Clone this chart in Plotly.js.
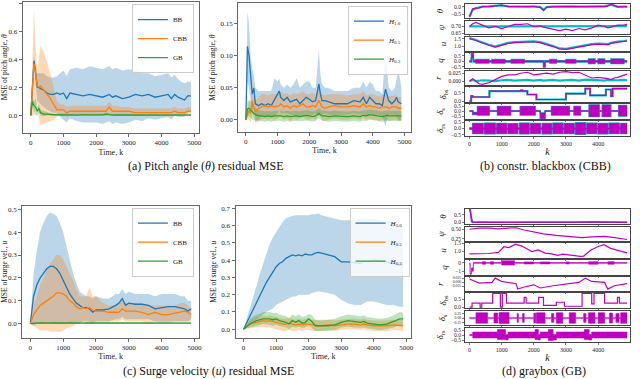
<!DOCTYPE html>
<html>
<head>
<meta charset="utf-8">
<script src="https://cdn.plot.ly/plotly-3.0.1.min.js"></script>
<style>
  html, body { margin: 0; padding: 0; background: #fff; }
  #plot { width: 640px; height: 379px; }
</style>
</head>
<body>
<div id="plot"></div>
<script>
// ---- (a) pitch angle residual MSE, models ----
var KA = [0,50,100,150,200,250,300, 400,500,600,700,800,900,1000, 1100,1200,1400,1600,1800,2000,
  2200,2300,2400,2500,2600,2800, 3000,3200,3400,3600,3800,4000, 4200,4300,4400,4500,4600,4700,4800,4900];
var bbA = [0,0.2,0.39,0.3,0.2,0.2,0.19, 0.18,0.16,0.15,0.15,0.16,0.15,0.16, 0.12,0.16,0.15,0.14,0.15,0.14,
  0.13,0.14,0.15,0.13,0.14,0.12, 0.13,0.15,0.14,0.15,0.13,0.14, 0.15,0.12,0.15,0.13,0.12,0.11,0.14,0.14];
var bbAhi = [0,0.3,0.42,0.36,0.3,0.3,0.3, 0.3,0.28,0.27,0.27,0.28,0.3,0.32, 0.28,0.33,0.34,0.33,0.35,0.34,
  0.33,0.34,0.35,0.33,0.34,0.32, 0.33,0.32,0.3,0.3,0.28,0.29, 0.3,0.27,0.29,0.26,0.24,0.23,0.24,0.24];
var bbAlo = [0,0.1,0.36,0.24,0.1,0.1,0.08, 0.06,0.04,0.03,0.02,0.02,-0.01,-0.03, -0.05,-0.02,-0.04,-0.05,-0.05,-0.05,
  -0.06,-0.05,-0.04,-0.06,-0.05,-0.06, -0.05,-0.03,-0.04,-0.02,-0.03,-0.02, -0.01,-0.03,0.0,-0.01,-0.01,-0.01,0.02,0.03];
var cbbA = [0,0.2,0.37,0.3,0.21,0.2,0.21, 0.18,0.15,0.12,0.08,0.04,0.04,0.04, 0.02,0.03,0.03,0.03,0.03,0.03,
  0.03,0.03,0.06,0.03,0.03,0.03, 0.03,0.02,0.02,0.02,0.02,0.02, 0.02,0.02,0.03,0.02,0.02,0.02,0.03,0.03];
var cbbAhi = [0,0.4,0.76,0.5,0.3,0.42,0.5, 0.45,0.38,0.3,0.2,0.1,0.08,0.08, 0.06,0.07,0.07,0.07,0.07,0.07,
  0.07,0.07,0.1,0.07,0.07,0.06, 0.06,0.05,0.05,0.05,0.05,0.05, 0.05,0.05,0.06,0.05,0.05,0.05,0.06,0.06];
var cbbAlo = [0,0,0,0.05,0.1,-0.02,-0.07, -0.06,-0.05,-0.04,-0.03,-0.01,0,0, -0.01,0,0,0,0,0,
  0,0,0.01,0,0,0, 0,0,0,0,0,0, 0,0,0,0,0,0,0,0];
var gbA = [0,0.1,0.07,0.06,0.03,0.05,0.02, 0.01,0.01,0.005,0.005,0.005,0.004,0.004, 0.004,0.004,0.003,0.004,0.003,0.004,
  0.004,0.01,0.004,0.003,0.004,0.003, 0.004,0.003,0.003,0.004,0.003,0.003, 0.004,0.003,0.003,0.004,0.003,0.003,0.003,0.003];
var gbAhi = [0,0.13,0.1,0.12,0.06,0.08,0.04, 0.03,0.02,0.015,0.012,0.012,0.01,0.01, 0.01,0.01,0.01,0.01,0.01,0.01,
  0.01,0.02,0.01,0.01,0.01,0.01, 0.01,0.01,0.01,0.01,0.01,0.01, 0.01,0.01,0.01,0.01,0.01,0.01,0.01,0.01];
var gbAlo = [0,0.07,0.03,0,0,0.02,0, -0.005,0,0,0,0,0,0, 0,0,0,0,0,0,
  0,0,0,0,0,0, 0,0,0,0,0,0, 0,0,0,0,0,0,0,0];

// ---- (a) pitch angle residual MSE, horizons ----
var KB = [0,50,100,150,200,250,300,400,500,600, 700,800,900,1000,1050,1100,1200,1300,1400,1500,
  1600,1700,1800,1900,2000,2100,2200,2300,2350,2400, 2500,2600,2800,3000,3200,3400,3600,3700,3800,3900,
  4000,4100,4200,4300,4400,4450,4500,4600,4700,4750, 4800,4900];
var h10B = [0,0.115,0.1,0.07,0.04,0.05,0.025,0.022,0.025,0.022, 0.025,0.022,0.03,0.04,0.045,0.035,0.03,0.035,0.028,0.03,
  0.032,0.025,0.03,0.035,0.032,0.028,0.03,0.056,0.04,0.03, 0.03,0.028,0.025,0.025,0.025,0.03,0.028,0.035,0.025,0.035,
  0.03,0.025,0.025,0.022,0.048,0.04,0.03,0.025,0.03,0.035, 0.028,0.025];
var h10Bhi = [0,0.17,0.15,0.1,0.08,0.07,0.05,0.045,0.045,0.045, 0.045,0.045,0.065,0.06,0.065,0.055,0.05,0.055,0.05,0.055,
  0.065,0.05,0.055,0.06,0.06,0.05,0.05,0.11,0.07,0.055, 0.05,0.05,0.045,0.045,0.045,0.05,0.05,0.06,0.05,0.06,
  0.055,0.045,0.045,0.04,0.105,0.08,0.05,0.045,0.05,0.065, 0.08,0.05];
var h10Blo = [0,0.06,0.05,0.03,0.01,0.02,0,0,0.005,0.005, 0.005,0.005,0.005,0.01,0.015,0.01,0.01,0.01,0.008,0.008,
  0.005,0.005,0.008,0.01,0.008,0.008,0.01,0.005,0.01,0.008, 0.01,0.008,0.008,0.008,0.008,0.01,0.008,0.01,0.005,0.01,
  0.008,0.008,0.008,0.005,-0.01,0.0,0.008,0.008,0.008,0.005, 0.0,0.0];
var h05B = [0,0.008,0.015,0.01,0.03,0.02,0.012,0.018,0.02,0.022, 0.02,0.022,0.02,0.022,0.022,0.025,0.02,0.022,0.018,0.022,
  0.02,0.022,0.025,0.02,0.02,0.022,0.02,0.03,0.025,0.02, 0.018,0.02,0.022,0.02,0.02,0.022,0.02,0.025,0.02,0.022,
  0.02,0.02,0.018,0.02,0.02,0.02,0.018,0.02,0.02,0.02, 0.018,0.018];
var h05Bhi = [0,0.015,0.03,0.03,0.045,0.035,0.03,0.035,0.04,0.04, 0.038,0.04,0.04,0.042,0.04,0.045,0.04,0.042,0.038,0.042,
  0.04,0.042,0.045,0.04,0.04,0.042,0.04,0.05,0.045,0.04, 0.038,0.04,0.04,0.04,0.038,0.04,0.04,0.045,0.038,0.04,
  0.04,0.038,0.036,0.038,0.04,0.038,0.036,0.038,0.038,0.038, 0.035,0.035];
var h05Blo = [0,0.0,0.0,-0.005,0.01,0.005,-0.005,0.0,0.0,0.002, 0.0,0.002,0.0,0.002,0.003,0.005,0.0,0.002,-0.002,0.002,
  0.0,0.002,0.004,0.0,0.0,0.002,0.0,0.008,0.005,0.0, -0.002,0.0,0.002,0.0,0.0,0.002,0.0,0.004,0.0,0.002,
  0.0,0.0,-0.002,0.0,0.0,0.0,-0.002,0.0,0.0,0.0, -0.002,-0.002];
var h03B = [0,0.017,0.018,0.015,0.012,0.01,0.008,0.006,0.006,0.005, 0.006,0.005,0.006,0.006,0.007,0.006,0.005,0.006,0.005,0.006,
  0.006,0.005,0.006,0.007,0.006,0.005,0.006,0.01,0.008,0.006, 0.006,0.005,0.006,0.005,0.005,0.006,0.005,0.007,0.006,0.008,
  0.007,0.006,0.006,0.005,0.006,0.007,0.006,0.006,0.007,0.007, 0.006,0.006];
var h03Bhi = [0,0.03,0.03,0.028,0.025,0.02,0.018,0.015,0.014,0.013, 0.014,0.013,0.014,0.014,0.015,0.014,0.013,0.014,0.013,0.014,
  0.014,0.013,0.014,0.015,0.014,0.013,0.014,0.018,0.016,0.014, 0.014,0.013,0.014,0.013,0.013,0.014,0.013,0.015,0.014,0.016,
  0.015,0.014,0.014,0.013,0.014,0.015,0.014,0.014,0.015,0.015, 0.014,0.014];
var h03Blo = [0,0.005,0.006,0.002,0.0,0.0,-0.002,-0.003,-0.002,-0.003, -0.002,-0.003,-0.002,-0.002,-0.001,-0.002,-0.003,-0.002,-0.003,-0.002,
  -0.002,-0.003,-0.002,-0.001,-0.002,-0.003,-0.002,0.002,0.0,-0.002, -0.002,-0.003,-0.002,-0.003,-0.003,-0.002,-0.003,-0.001,-0.002,0.0,
  -0.001,-0.002,-0.002,-0.003,-0.002,-0.001,-0.002,-0.002,-0.001,-0.001, -0.002,-0.002];

// ---- (c) surge velocity residual MSE, models ----
var KC = [0,100,200,300,400,500,600,700,800,900, 1000,1100,1200,1300,1400,1500,1600,1700,1800,1900,
  2000,2200,2400,2600,2700,2800,2900,3000,3200,3400, 3600,3800,4000,4200,4400,4600,4700,4800,4900];
var bbC = [0,0.12,0.17,0.2,0.22,0.24,0.25,0.25,0.24,0.22, 0.19,0.16,0.13,0.11,0.09,0.08,0.07,0.07,0.065,0.05,
  0.06,0.06,0.065,0.08,0.09,0.11,0.08,0.09,0.085,0.085, 0.08,0.065,0.07,0.075,0.075,0.07,0.065,0.055,0.065];
var bbChi = [0,0.22,0.32,0.4,0.44,0.47,0.485,0.48,0.47,0.44, 0.4,0.34,0.28,0.22,0.18,0.14,0.13,0.12,0.12,0.11,
  0.12,0.11,0.11,0.13,0.13,0.15,0.13,0.14,0.13,0.13, 0.13,0.12,0.13,0.13,0.13,0.12,0.12,0.1,0.1];
var bbClo = [0,-0.01,0,0,0,0,0,0,0,0, 0,0,0,0,0,0,0.01,0.01,0.01,0.0,
  0.01,0.01,0.01,0.02,0.02,0.03,0.02,0.02,0.02,0.02, 0.02,0.01,0.01,0.01,0.01,0.01,0.01,0.01,0.02];
var cbbC = [0,0.04,0.06,0.08,0.09,0.1,0.11,0.12,0.135,0.135, 0.13,0.12,0.1,0.09,0.075,0.065,0.07,0.065,0.07,0.06,
  0.055,0.055,0.05,0.05,0.05,0.065,0.055,0.055,0.055,0.05, 0.04,0.05,0.04,0.04,0.045,0.05,0.055,0.05,0.04];
var cbbChi = [0,0.08,0.12,0.17,0.2,0.23,0.26,0.28,0.3,0.3, 0.28,0.25,0.22,0.19,0.15,0.12,0.12,0.12,0.16,0.12,
  0.12,0.09,0.08,0.08,0.09,0.1,0.09,0.09,0.09,0.09, 0.08,0.08,0.08,0.08,0.08,0.09,0.09,0.08,0.06];
var cbbClo = [0,-0.01,-0.02,-0.03,-0.03,-0.03,-0.035,-0.035,-0.035,-0.035, -0.03,-0.02,-0.015,-0.01,0,0,0.01,0.01,0,0,
  0.01,0.01,0.01,0.01,0.01,0.02,0.01,0.01,0.01,0.01, 0.0,0.01,0.0,0.0,0.01,0.01,0.01,0.01,0.01];
var gbC = [0,0.003,0.003,0.004,0.003,0.003,0.003,0.004,0.003,0.003, 0.003,0.003,0.004,0.003,0.003,0.003,0.003,0.004,0.004,0.004,
  0.005,0.004,0.004,0.003,0.003,0.002,0.002,0.003,0.003,0.003, 0.003,0.003,0.003,0.004,0.003,0.003,0.003,0.003,0.003];
var gbChi = [0,0.006,0.007,0.007,0.006,0.006,0.006,0.007,0.006,0.006, 0.006,0.006,0.007,0.006,0.006,0.006,0.006,0.007,0.007,0.007,
  0.008,0.007,0.007,0.006,0.006,0.005,0.005,0.006,0.006,0.006, 0.006,0.006,0.006,0.007,0.006,0.006,0.006,0.006,0.006];
var gbClo = [0,0,0,0.001,0,0,0,0.001,0,0, 0,0,0.001,0,0,0,0,0.001,0.001,0.001,
  0.002,0.001,0.001,0,0,-0.001,-0.001,0,0,0, 0,0,0,0.001,0,0,0,0,0];

// ---- (c) surge velocity residual MSE, horizons ----
var KD = [0,200,400,500,600,700,800,900,1000,1100, 1200,1300,1400,1500,1600,1700,1800,1900,2000,2100,
  2200,2300,2400,2600,2800,3000,3200,3400,3600,3700, 3800,4000,4200,4400,4600,4800,4900];
var h10D = [0,0.08,0.16,0.2,0.24,0.27,0.3,0.33,0.36,0.38, 0.39,0.41,0.42,0.43,0.425,0.43,0.425,0.435,0.43,0.43,
  0.44,0.445,0.44,0.43,0.42,0.39,0.39,0.385,0.38,0.395, 0.39,0.4,0.395,0.39,0.38,0.37,0.372];
var h10Dhi = [0,0.12,0.25,0.32,0.38,0.44,0.49,0.53,0.56,0.59, 0.62,0.64,0.65,0.655,0.66,0.66,0.66,0.66,0.66,0.665,
  0.665,0.67,0.66,0.65,0.64,0.63,0.63,0.63,0.64,0.64, 0.64,0.64,0.63,0.63,0.62,0.6,0.58];
var h10Dlo = [0,0.03,0.06,0.07,0.09,0.1,0.11,0.12,0.14,0.15, 0.16,0.17,0.18,0.19,0.19,0.2,0.2,0.2,0.2,0.21,
  0.215,0.22,0.215,0.21,0.2,0.17,0.15,0.14,0.14,0.15, 0.16,0.16,0.15,0.14,0.14,0.13,0.13];
var h05D = [0,0.03,0.04,0.045,0.05,0.045,0.05,0.045,0.04,0.035, 0.03,0.03,0.035,0.03,0.025,0.03,0.025,0.03,0.03,0.025,
  0.025,0.02,0.02,0.025,0.02,0.025,0.03,0.03,0.025,0.03, 0.025,0.02,0.02,0.02,0.025,0.02,0.02];
var h05Dhi = [0,0.05,0.07,0.075,0.08,0.075,0.08,0.075,0.07,0.065, 0.06,0.06,0.065,0.06,0.055,0.06,0.055,0.06,0.06,0.055,
  0.055,0.05,0.05,0.055,0.05,0.055,0.06,0.06,0.055,0.06, 0.055,0.05,0.05,0.05,0.055,0.05,0.05];
var h05Dlo = [0,0.005,0.01,0.01,0.015,0.01,0.01,0.005,0.0,-0.005, -0.01,-0.01,-0.005,-0.01,-0.01,-0.005,-0.01,-0.005,-0.005,-0.01,
  -0.01,-0.01,-0.01,-0.005,-0.01,-0.005,0.0,0.0,-0.005,0.0, -0.005,-0.01,-0.01,-0.01,-0.005,-0.01,-0.01];
var h03D = [0,0.03,0.05,0.055,0.06,0.06,0.06,0.055,0.06,0.05, 0.045,0.04,0.03,0.05,0.04,0.05,0.035,0.04,0.06,0.045,
  0.02,0.02,0.02,0.02,0.025,0.04,0.05,0.045,0.04,0.045, 0.035,0.03,0.025,0.03,0.045,0.06,0.06];
var h03Dhi = [0,0.06,0.085,0.09,0.1,0.1,0.1,0.095,0.095,0.085, 0.08,0.075,0.065,0.085,0.075,0.085,0.07,0.075,0.09,0.08,
  0.055,0.055,0.055,0.055,0.06,0.075,0.085,0.08,0.075,0.08, 0.07,0.065,0.06,0.065,0.08,0.1,0.095];
var h03Dlo = [0,0.01,0.02,0.025,0.03,0.03,0.025,0.02,0.025,0.02, 0.015,0.01,0.0,0.015,0.01,0.015,0.005,0.01,0.025,0.01,
  -0.01,-0.01,-0.01,-0.01,-0.005,0.01,0.015,0.01,0.01,0.01, 0.005,0.0,-0.005,0.0,0.01,0.025,0.025];

// ---- (b) constr. blackbox: states and inputs ----
var KS = [0,100,200,300,400,600,800,1000,1200,1400, 1600,1800,2000,2200,2300,2400,2600,2800,3000,3200,
  3400,3600,3800,4000,4200,4300,4400,4500,4600,4800, 4900];
var thB = [-0.7,-0.15,-0.1,-0.08,0.0,0.0,0.05,0.1,0.0,0.0, 0.0,0.0,0.0,-0.05,-0.25,-0.05,0.0,0.0,0.0,0.0,
  0.0,0.0,0.0,0.0,0.0,0.05,0.15,0.08,0.0,0.0, 0.0];
var thBref = [-0.65,-0.2,-0.12,-0.05,0.0,0.02,0.05,0.08,0.02,0.0, 0.02,0.0,0.02,-0.03,-0.22,-0.03,0.0,0.02,0.0,0.02,
  0.0,0.02,0.0,0.02,0.02,0.08,0.12,0.05,-0.02,0.0, 0.0];
var psB = [0.70,0.72,0.73,0.72,0.705,0.69,0.70,0.685,0.70,0.715, 0.715,0.72,0.70,0.705,0.695,0.69,0.68,0.67,0.68,0.67,
  0.685,0.675,0.69,0.71,0.70,0.69,0.695,0.70,0.71,0.71, 0.715];
var psBref = [0.70,0.70,0.70,0.698,0.698,0.697,0.697,0.697,0.698,0.698, 0.698,0.699,0.699,0.699,0.698,0.698,0.698,0.698,0.699,0.699,
  0.70,0.70,0.70,0.70,0.70,0.70,0.701,0.701,0.701,0.702, 0.702];
var uB = [1.5,1.45,1.38,1.3,1.22,1.08,0.97,1.1,1.2,1.25, 1.28,1.3,1.3,1.25,1.2,1.12,1.0,0.85,0.82,0.9,
  0.98,1.05,1.12,1.15,1.15,1.12,1.2,1.25,1.28,1.32, 1.35];
var uBref = [1.53,1.48,1.41,1.33,1.25,1.11,1.0,1.13,1.23,1.28, 1.31,1.33,1.33,1.28,1.23,1.15,1.03,0.88,0.85,0.93,
  1.01,1.08,1.15,1.18,1.18,1.15,1.23,1.28,1.31,1.35, 1.38];
var rB = [0.0,0.008,0.0,-0.008,-0.01,-0.005,0.005,0.015,0.02,0.02, 0.025,0.028,0.02,0.022,0.025,0.025,0.022,0.028,0.03,0.027,
  0.028,0.02,0.01,0.012,0.01,0.008,0.005,0.01,0.012,0.018, 0.022];
var rBref = [0.0,0.004,0.0,0.001,0.003,0.002,0.0,0.003,0.004,0.002, 0.003,0.004,0.002,0.004,0.002,0.003,0.004,0.002,0.003,0.004,
  0.002,0.005,0.004,0.003,0.002,0.004,0.003,0.004,0.003,0.004, 0.003];
var qBk = [0,60,120,200,600,700,1100,1300,1700,2250, 2300,2350,2500,2700,3000,3300,3700,3900,4000,4200, 4400,4800,4900];
var qBhi = [0.05,0.7,0.1,0.15,0.05,0.15,0.05,0.15,0.05,0.05, -0.1,0.05,0.15,0.05,0.15,0.05,0.2,0.05,0.2,0.05, 0.2,0.05,0.05];
var qBlo = [-0.05,0.3,-0.05,-0.15,-0.05,-0.15,-0.05,-0.15,-0.05,-0.05, -0.5,-0.05,-0.15,-0.05,-0.15,-0.05,-0.2,-0.05,-0.2,-0.05, -0.2,-0.05,-0.05];
var dbBk = [0,50,100,150,620,1600,1650,1800,2080,3000,3600,3750,4240,4400,4450,4900];
var dbB = [0.0,0.3,0.25,0.25,0.6,0.65,0.6,0.4,0.1,0.45,0.75,0.35,0.7,0.3,0.75,0.75];
var dsBk = [0,100,250,610,870,1280,1580,2040,2200,2350, 2550,3100,3250,3450,3720,4030,4130,4390,4640,4900];
var dsBhi = [0.02,-0.15,0.45,0.03,0.45,0.03,0.45,0.03,-0.2,0.03, 0.45,0.03,0.45,0.03,0.6,0.03,0.6,0.03,0.55,0.55];
var dsBlo = [-0.02,-0.35,-0.4,-0.03,-0.4,-0.03,-0.4,-0.03,-0.75,-0.03, -0.4,-0.03,-0.4,-0.03,-0.55,-0.03,-0.55,-0.03,-0.5,-0.5];
var drsBk = [0,100,420,470,800,850,1150,1200,1500,1560, 1850,1900,2200,2260,2550,2600,2900,2950,3250,3300,
  3600,3650,3950,4000,4300,4350,4650,4700,4900];
var drsBhi = [0.05,0.4,0.05,0.42,0.05,0.4,0.05,0.38,0.05,0.42, 0.05,0.4,0.05,0.4,0.05,0.42,0.05,0.4,0.05,0.45,
  0.05,0.42,0.05,0.4,0.05,0.42,0.05,0.4,0.4];
var drsBlo = [-0.05,-0.4,-0.05,-0.42,-0.05,-0.4,-0.05,-0.4,-0.05,-0.42, -0.05,-0.4,-0.05,-0.42,-0.05,-0.4,-0.05,-0.4,-0.05,-0.45,
  -0.05,-0.4,-0.05,-0.42,-0.05,-0.4,-0.05,-0.4,-0.4];

// ---- (d) graybox: states and inputs ----
var thDk = [0,30,60,100,300,600,1000,1400,1800,2200,2600,3000,3400,3800,4200,4600,4900];
var thD = [0.85,0.6,0.05,0.0,0.01,0.0,0.02,0.0,0.01,0.0,0.01,0.0,0.01,0.03,0.0,0.01,0.0];
var thDref = [0.85,0.82,0.3,0.02,0.0,0.0,0.01,0.0,0.0,0.0,0.0,0.0,0.0,0.01,0.0,0.0,0.0];
var psDk = [0,300,600,900,1200,1450,1700,2000,2300,2700,3000,3500,3800,4200,4400,4700,4900];
var psD = [0.5,0.53,0.53,0.51,0.53,0.54,0.48,0.42,0.38,0.34,0.32,0.28,0.3,0.31,0.29,0.25,0.23];
var uDk = [0,600,900,1070,1220,1430,1630,1940,2140,2350, 2550,2750,2900,3150,3450,3550,3780,3980,4180,4390, 4690,4900];
var uD = [0.86,0.88,0.95,1.3,1.25,1.46,1.34,1.0,1.1,0.9, 0.86,0.76,0.84,0.76,0.7,0.72,1.1,1.3,1.42,1.2, 1.06,0.92];
var qDk = [0,20,60,120,400,500,650,750,1000,1400, 1700,2000,2200,2500,3000,3100,3700,4000,4300,4500, 4900];
var qDhi = [0.0,-1.3,-0.6,0.05,0.15,0.05,0.15,0.05,0.25,0.05, 0.12,0.05,0.12,0.05,0.12,0.05,0.15,0.05,0.15,0.05, 0.05];
var qDlo = [-0.2,-1.35,-1.0,-0.05,-0.15,-0.05,-0.15,-0.05,-0.25,-0.05, -0.12,-0.05,-0.12,-0.05,-0.12,-0.05,-0.15,-0.05,-0.15,-0.05, -0.05];
var rDk = [0,300,700,800,1000,1300,1450,1500,1700,2000, 2200,2600,3000,3400,3600,3800,4200,4250,4300,4500, 4900];
var rD = [0.019,-0.006,-0.002,0.025,0.004,-0.005,-0.01,-0.044,-0.031,-0.017, -0.037,-0.023,-0.0125,-0.002,0.025,0.004,-0.002,-0.02,-0.044,-0.023, -0.01];
var dbDk = [0,80,330,380,720,780,960,1020,1150,1700, 1760,2150,2300,2350,2700,2950,3500,3800,3870,4200, 4600,4660,4900];
var dbD = [0.0,0.25,0.0,0.25,0.85,0.85,0.0,0.85,0.25,0.6, 0.25,0.6,0.1,0.1,0.3,0.05,0.85,0.2,0.85,0.25, 0.6,0.25,0.25];
var dsDk = [0,200,560,760,880,920,1230,1480,1520,1650, 1700,2000,2060,2080,2350,2550,2620,2700,2900,3100,
  3300,3550,3620,3700,3900,4000,4200,4350,4450,4550, 4650,4700,4900];
var dsDhi = [0.02,0.3,0.02,0.28,0.02,0.32,0.02,0.25,0.02,0.25, 0.02,0.28,0.02,0.3,0.02,0.25,0.02,0.3,0.02,0.3,
  0.02,0.25,0.02,0.3,0.02,0.3,0.02,0.28,0.02,0.25, 0.02,0.3,0.3];
var dsDlo = [-0.02,-0.3,-0.02,-0.28,-0.02,-0.32,-0.02,-0.25,-0.02,-0.25, -0.02,-0.28,-0.02,-0.3,-0.02,-0.25,-0.02,-0.3,-0.02,-0.3,
  -0.02,-0.25,-0.02,-0.3,-0.02,-0.3,-0.02,-0.28,-0.02,-0.25, -0.02,-0.3,-0.3];
var drsDk = [0,100,870,1120,1200,2040,2140,2200,2450,2600,2700,3570,3720,3800,4900];
var drsDhi = [0.05,0.3,0.55,0.05,0.3,0.55,0.05,0.3,0.55,0.05,0.3,0.55,0.05,0.3,0.3];
var drsDlo = [-0.05,-0.3,-0.45,-0.5,-0.3,-0.45,-0.5,-0.3,-0.55,-0.5,-0.3,-0.45,-0.5,-0.3,-0.3];

var kTicks = [0, 1000, 2000, 3000, 4000, 5000];

// ---- drawing ----
var SERIF = "Liberation Serif, DejaVu Serif, serif";
var BLUE = "#1f77b4", ORANGE = "#ff7f0e", GREEN = "#2ca02c";
var MAG = "#bf00bf", CYAN = "#00bfbf";
var traces = [];

function axId(n) { return n === 1 ? "" : String(n); }

function addBand(n, xs, lo, hi, fill) {
  var base = {x: xs, type: "scatter", mode: "lines", xaxis: "x" + axId(n), yaxis: "y" + axId(n),
    showlegend: false, hoverinfo: "skip"};
  traces.push(Object.assign({}, base, {y: lo, line: {width: 0}}));
  traces.push(Object.assign({}, base, {y: hi, fill: "tonexty", fillcolor: fill, line: {width: 0}}));
}

function addLine(n, xs, ys, color, width, name, legend, shape) {
  traces.push({x: xs, y: ys, type: "scatter", mode: "lines", xaxis: "x" + axId(n), yaxis: "y" + axId(n),
    line: {color: color, width: width, shape: shape || "linear"},
    name: name || "", showlegend: !!name, legend: legend || "legend", hoverinfo: "skip"});
}

function addEnv(n, xs, lo, hi, color, width) {
  var base = {x: xs, type: "scatter", mode: "lines", xaxis: "x" + axId(n), yaxis: "y" + axId(n),
    showlegend: false, hoverinfo: "skip"};
  traces.push(Object.assign({}, base, {y: lo, line: {color: color, width: width, shape: "hv"}}));
  traces.push(Object.assign({}, base, {y: hi, fill: "tonexty", fillcolor: color, line: {color: color, width: width, shape: "hv"}}));
}

// (a) left: models
addBand(1, KA, bbAlo, bbAhi, "rgba(31,119,180,0.3)");
addBand(1, KA, cbbAlo, cbbAhi, "rgba(255,127,14,0.3)");
addBand(1, KA, gbAlo, gbAhi, "rgba(44,160,44,0.3)");
addLine(1, KA, bbA, BLUE, 1.3, "BB", "legend");
addLine(1, KA, cbbA, ORANGE, 1.3, "CBB", "legend");
addLine(1, KA, gbA, GREEN, 1.3, "GB", "legend");

// (a) right: horizons
addBand(2, KB, h10Blo, h10Bhi, "rgba(31,119,180,0.3)");
addBand(2, KB, h05Blo, h05Bhi, "rgba(255,127,14,0.3)");
addBand(2, KB, h03Blo, h03Bhi, "rgba(44,160,44,0.3)");
addLine(2, KB, h10B, BLUE, 1.3, "<i>H</i><sub>1.0</sub>", "legend2");
addLine(2, KB, h05B, ORANGE, 1.3, "<i>H</i><sub>0.5</sub>", "legend2");
addLine(2, KB, h03B, GREEN, 1.3, "<i>H</i><sub>0.3</sub>", "legend2");

// (c) left: models
addBand(3, KC, bbClo, bbChi, "rgba(31,119,180,0.3)");
addBand(3, KC, cbbClo, cbbChi, "rgba(255,127,14,0.3)");
addBand(3, KC, gbClo, gbChi, "rgba(44,160,44,0.3)");
addLine(3, KC, bbC, BLUE, 1.3, "BB", "legend3");
addLine(3, KC, cbbC, ORANGE, 1.3, "CBB", "legend3");
addLine(3, KC, gbC, GREEN, 1.3, "GB", "legend3");

// (c) right: horizons
addBand(4, KD, h10Dlo, h10Dhi, "rgba(31,119,180,0.3)");
addBand(4, KD, h05Dlo, h05Dhi, "rgba(255,127,14,0.3)");
addBand(4, KD, h03Dlo, h03Dhi, "rgba(44,160,44,0.3)");
addLine(4, KD, h10D, BLUE, 1.3, "<i>H</i><sub>1.0</sub>", "legend4");
addLine(4, KD, h05D, ORANGE, 1.3, "<i>H</i><sub>0.5</sub>", "legend4");
addLine(4, KD, h03D, GREEN, 1.3, "<i>H</i><sub>0.3</sub>", "legend4");

// (b) CBB rows, axes 5..12
addLine(5, KS, thBref, CYAN, 2.2);  addLine(5, KS, thB, MAG, 1.2);
addLine(6, KS, psBref, CYAN, 2.2);  addLine(6, KS, psB, MAG, 1.2);
addLine(7, KS, uBref, CYAN, 2.2);   addLine(7, KS, uB, MAG, 1.2);
addEnv(8, qBk, qBlo, qBhi, CYAN, 1.6); addEnv(8, qBk, qBlo, qBhi, MAG, 0.5);
addLine(9, KS, rBref, CYAN, 2.2);   addLine(9, KS, rB, MAG, 1.2);
addLine(10, dbBk, dbB, CYAN, 2.2, "", "", "hv"); addLine(10, dbBk, dbB, MAG, 1.2, "", "", "hv");
addEnv(11, dsBk, dsBlo, dsBhi, CYAN, 1.6); addEnv(11, dsBk, dsBlo, dsBhi, MAG, 0.5);
addEnv(12, drsBk, drsBlo, drsBhi, CYAN, 1.6); addEnv(12, drsBk, drsBlo, drsBhi, MAG, 0.5);

// (d) GB rows, axes 13..20
addLine(13, thDk, thDref, BLUE, 1.4); addLine(13, thDk, thD, MAG, 1.2);
addLine(14, psDk, psD, MAG, 1.2);
addLine(15, uDk, uD, MAG, 1.2);
addEnv(16, qDk, qDlo, qDhi, MAG, 0.6);
addLine(17, rDk, rD, MAG, 1.2);
addLine(18, dbDk, dbD, MAG, 1.2, "", "", "hv");
addEnv(19, dsDk, dsDlo, dsDhi, MAG, 0.6);
addEnv(20, drsDk, drsDlo, drsDhi, MAG, 0.6);

var layout = {
  width: 640, height: 379,
  margin: {l: 0, r: 0, t: 0, b: 0},
  paper_bgcolor: "#fff", plot_bgcolor: "#fff",
  font: {family: SERIF, size: 7, color: "#222"},
  annotations: [
    {text: "(a) Pitch angle (<i>θ</i>) residual MSE", x: 0.322, y: 0.562},
    {text: "(b) constr. blackbox (CBB)", x: 0.8516, y: 0.562},
    {text: "(c) Surge velocity (<i>u</i>) residual MSE", x: 0.325, y: 0.021},
    {text: "(d) graybox (GB)", x: 0.85, y: 0.021}
  ].map(function (a) {
    return Object.assign(a, {xref: "paper", yref: "paper", showarrow: false,
      xanchor: "center", yanchor: "middle", font: {family: SERIF, size: 12, color: "#111"}});
  })
};

var legendBase = {xanchor: "right", yanchor: "top", bgcolor: "rgba(255,255,255,0.8)", traceorder: "normal",
  bordercolor: "#ccc", borderwidth: 1, font: {family: SERIF, size: 7}, itemwidth: 30, tracegroupgap: 0};
layout.legend = Object.assign({x: 0.303, y: 0.989}, legendBase);
layout.legend2 = Object.assign({x: 0.6375, y: 0.985}, legendBase);
layout.legend3 = Object.assign({x: 0.303, y: 0.452}, legendBase);
layout.legend4 = Object.assign({x: 0.64, y: 0.452}, legendBase);

function mainAxes(n, xd, yd, xr, yr, yt, fmt, ytitle) {
  layout["xaxis" + axId(n)] = {domain: xd, range: xr, anchor: "y" + axId(n), tickvals: kTicks,
    ticks: "outside", ticklen: 3, tickwidth: 0.8, showline: true, mirror: true, linecolor: "#666",
    linewidth: 1, zeroline: false, showgrid: false, tickfont: {size: 7},
    title: {text: "Time, k", font: {size: 8}, standoff: 2}};
  layout["yaxis" + axId(n)] = {domain: yd, range: yr, anchor: "x" + axId(n), tickvals: yt, tickformat: fmt,
    ticks: "outside", ticklen: 3, tickwidth: 0.8, showline: true, mirror: true, linecolor: "#666",
    linewidth: 1, zeroline: false, showgrid: false, tickfont: {size: 7},
    title: {text: ytitle, font: {size: 7.5}, standoff: 3}};
}

mainAxes(1, [0.0355, 0.311], [0.649, 0.9955], [-245, 5145], [-0.125, 0.81],
  [0, 0.2, 0.4, 0.6, 0.8], ".1f", "MSE of pitch angle, <i>θ</i>");
mainAxes(2, [0.372, 0.642], [0.652, 0.991], [-245, 5200], [-0.019, 0.182],
  [0, 0.05, 0.1, 0.15], ".2f", "MSE of pitch angle, <i>θ</i>");
mainAxes(3, [0.0348, 0.311], [0.109, 0.4565], [-245, 5140], [-0.061, 0.514],
  [0, 0.1, 0.2, 0.3, 0.4, 0.5], ".1f", "MSE of surge vel., <i>u</i>");
mainAxes(4, [0.368, 0.642], [0.109, 0.4565], [-245, 5140], [-0.049, 0.713],
  [0, 0.1, 0.2, 0.3, 0.4, 0.5, 0.6, 0.7], ".1f", "MSE of surge vel., <i>u</i>");

// small stacked rows: pixel top/bottom of each row box
var rowsB = [[4, 18], [21, 34], [37, 51], [53, 68], [71, 85], [87, 102], [104, 119], [121, 136]];
var rowsD = [[209, 224], [227, 241], [243, 258], [260, 275], [277, 291], [293, 308], [311, 325], [328, 342]];
var rowSymbols = ["<i>θ</i>", "<i>ψ</i>", "<i>u</i>", "<i>q</i>", "<i>r</i>",
  "<i>δ</i><sub>bs</sub>", "<i>δ</i><sub>s</sub>", "<i>δ</i><sub>rs</sub>"];
var rangesB = [[-0.75, 0.17], [0.645, 0.74], [0.72, 1.6], [-0.6, 0.75], [-0.012, 0.032], [-0.05, 0.85], [-0.8, 0.7], [-0.6, 0.6]];
var ticksB = [[0, -0.5], [0.7, 0.65], [1.5, 1.0], [0.5, 0, -0.5], [0.025, 0], [0.5, 0], [0.5, 0, -0.5], [0.5, 0, -0.5]];
var labelsB = [["0.0", "−0.5"], ["0.70", "0.65"], ["1.5", "1.0"], ["0.5", "0.0", "−0.5"], ["0.025", "0.000"],
  ["0.5", "0.0"], ["0.5", "0.0", "−0.5"], ["0.5", "0.0", "−0.5"]];
var rangesD = [[-0.11, 0.87], [0.19, 0.56], [0.6, 1.53], [-1.45, 0.35], [-0.056, 0.032], [-0.06, 0.88], [-0.4, 0.4], [-0.7, 0.7]];
var ticksD = [[0.5, 0], [0.5, 0.25], [1.5, 1.0], [0, -1], [0.025, 0, -0.025], [0.5, 0], [0.25, 0, -0.25], [0.5, 0, -0.5]];
var labelsD = [["0.5", "0.0"], ["0.50", "0.25"], ["1.5", "1.0"], ["0", "−1"], ["0.025", "0.000", "−0.025"],
  ["0.5", "0.0"], ["0.25", "0.00", "−0.25"], ["0.5", "0.0", "−0.5"]];

function rowAxes(first, rows, ranges, ticks, labels) {
  for (var i = 0; i < rows.length; i++) {
    var n = first + i;
    var last = i === rows.length - 1;
    var hpx = rows[i][1] - rows[i][0];
    var tv = ticks[i];
    // spacing between neighbouring tick labels, in pixels
    var gap = hpx * Math.abs(tv[0] - tv[1]) / (ranges[i][1] - ranges[i][0]);
    var xa = {domain: [465 / 640, 630 / 640], range: [-140, 4990], anchor: "y" + n,
      tickvals: kTicks, showticklabels: last, ticks: "outside", ticklen: 2, tickwidth: 0.7,
      showline: true, mirror: true, linecolor: "#444", linewidth: 1, zeroline: false, showgrid: false,
      tickfont: {size: 6}};
    if (last) xa.title = {text: "<i>k</i>", font: {size: 10}, standoff: 1};
    layout["xaxis" + n] = xa;
    layout["yaxis" + n] = {domain: [1 - rows[i][1] / 379, 1 - rows[i][0] / 379], range: ranges[i],
      anchor: "x" + n, tickvals: tv, ticktext: labels[i], ticks: "outside", ticklen: 2,
      tickwidth: 0.7, showline: true, mirror: true, linecolor: "#444", linewidth: 1, zeroline: false,
      showgrid: false, tickfont: {size: gap < 5 ? 3.8 : 5.5},
      title: {text: rowSymbols[i], font: {size: 9}, standoff: 5}};
  }
}
rowAxes(5, rowsB, rangesB, ticksB, labelsB);
rowAxes(13, rowsD, rangesD, ticksD, labelsD);

Plotly.newPlot("plot", traces, layout, {displayModeBar: false, staticPlot: true});
</script>
</body>
</html>
